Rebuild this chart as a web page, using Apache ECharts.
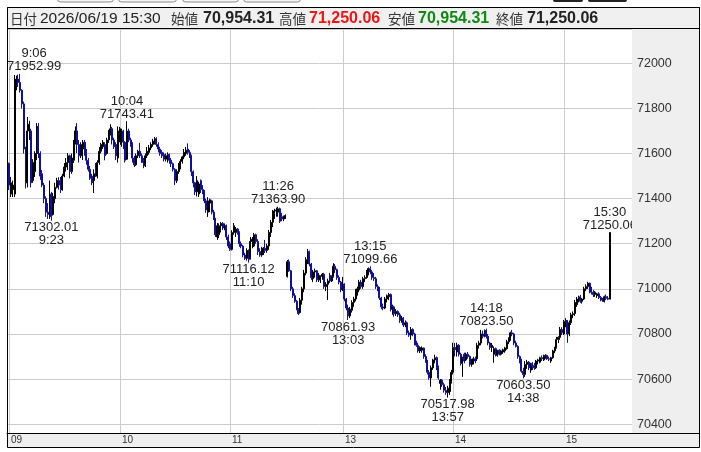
<!DOCTYPE html>
<html><head><meta charset="utf-8">
<script src="https://cdn.jsdelivr.net/npm/echarts@6/dist/echarts.min.js"></script>
<style>html,body{margin:0;padding:0;background:#fff}#c{width:701px;height:452px}</style>
</head><body><div id="c"></div><script>
// 1-minute candles [open, high, low, close]
// morning session 9:00 - 11:30
const morning = [
[71556,71560,71438,71460],[71420,71496,71407,71470],[71440,71480,71407,71460],[71420,71948,71407,71910],[71900,71945,71880,71930],[71930,71950,71895,71915],[71915,71952.99,71870,71880],[71880,71885,71800,71820],[71820,71830,71600,71620],[71620,71630,71445,71470],
[71470,71762,71450,71700],[71700,71745,71660,71730],[71700,71710,71450,71470],[71480,71575,71470,71560],[71520,71610,71496,71600],[71600,71735,71571,71720],[71720,71735,71580,71600],[71600,71610,71483,71500],[71510,71527,71451,71460],[71460,71470,71380,71400],
[71400,71410,71319,71340],[71340,71380,71310,71330],[71330,71480,71310,71420],[71420,71430,71302.01,71320],[71330,71425,71325,71410],[71400,71470,71380,71450],[71450,71492,71445,71480],[71480,71495,71440,71460],[71470,71496,71425,71440],[71440,71510,71435,71500],
[71500,71558,71495,71540],[71540,71580,71520,71560],[71560,71602,71527,71590],[71590,71595,71490,71520],[71520,71600,71510,71580],[71570,71660,71558,71650],[71650,71720,71640,71700],[71700,71735,71602,71640],[71640,71660,71560,71590],[71590,71650,71580,71640],
[71620,71660,71571,71650],[71650,71660,71590,71600],[71610,71620,71550,71570],[71570,71580,71520,71530],[71530,71545,71483,71490],[71500,71510,71460,71470],[71480,71530,71425,71510],[71520,71558,71496,71500],[71500,71570,71490,71560],[71560,71629,71550,71610],
[71610,71647,71600,71640],[71630,71660,71620,71650],[71640,71650,71570,71590],[71600,71670,71595,71660],[71660,71705,71647,71700],[71690,71730,71680,71710],[71710,71718,71640,71660],[71660,71670,71620,71630],[71640,71650,71571,71590],[71580,71720,71560,71700],
[71690,71718,71650,71710],[71640,71710,71630,71700],[71700,71705,71620,71650],[71650,71655,71560,71570],[71575,71743.41,71571,71700],[71700,71710,71650,71660],[71660,71670,71630,71640],[71640,71650,71560,71580],[71580,71590,71540,71550],[71550,71600,71545,71590],
[71590,71616,71580,71610],[71610,71647,71580,71590],[71590,71600,71558,71560],[71570,71580,71535,71545],[71550,71600,71540,71590],[71590,71629,71580,71610],[71605,71638,71595,71625],[71625,71650,71615,71640],[71640,71665,71630,71655],[71650,71673,71640,71665],
[71665,71672,71630,71640],[71640,71650,71605,71620],[71620,71630,71590,71600],[71605,71615,71580,71590],[71595,71605,71565,71575],[71575,71600,71565,71590],[71585,71605,71560,71595],[71595,71600,71555,71570],[71570,71580,71540,71555],[71555,71560,71520,71530],
[71530,71535,71460,71480],[71480,71530,71469,71520],[71520,71558,71510,71545],[71545,71575,71530,71565],[71565,71590,71555,71585],[71585,71620,71575,71605],[71600,71629,71590,71615],[71620,71645,71595,71605],[71605,71615,71580,71590],[71590,71595,71500,71520],
[71520,71525,71450,71470],[71470,71475,71416,71430],[71430,71500,71410,71480],[71420,71475,71407,71465],[71480,71485,71425,71440],[71440,71460,71420,71430],[71430,71438,71380,71390],[71390,71400,71337,71350],[71340,71407,71319,71390],[71380,71400,71340,71395],
[71390,71395,71330,71340],[71340,71350,71305,71310],[71310,71315,71230,71240],[71230,71292,71217,71280],[71240,71290,71225,71280],[71280,71296,71250,71290],[71290,71296,71261,71270],[71270,71290,71260,71280],[71280,71285,71217,71230],[71230,71240,71180,71190],
[71200,71210,71168,71175],[71175,71260,71170,71250],[71250,71292,71240,71280],[71250,71274,71230,71265],[71265,71270,71240,71250],[71250,71255,71186,71200],[71200,71210,71180,71190],[71190,71195,71140,71150],[71150,71160,71128,71135],[71135,71180,71125,71170],
[71170,71175,71116.12,71130],[71140,71230,71130,71210],[71210,71230,71180,71220],[71190,71248,71186,71240],[71240,71245,71200,71210],[71210,71220,71150,71165],[71165,71180,71142,71150],[71150,71186,71142,71175],[71160,71185,71150,71180],[71180,71217,71159,71170],
[71170,71200,71160,71190],[71190,71261,71173,71250],[71250,71305,71230,71295],[71295,71350,71274,71335],[71335,71355,71310,71345],[71345,71360,71320,71350],[71340,71363.90,71320,71355],[71355,71360,71292,71300],[71320,71337,71300,71310],[71310,71325,71300,71320],[71315,71330,71310,71325]
];
// afternoon session 12:30 - 15:24
const afternoon = [
[71055,71128,71050,71120],[71120,71130,71075,71080],[71080,71084,70990,71000],[71000,71009,70960,70970],[70970,70980,70938,70945],[70945,70951,70905,70910],[70910,70915,70884,70890],[70895,70960,70890,70950],[70950,71009,70930,71000],[71000,71084,70985,71070],
[71070,71140,71060,71130],[71130,71177,71110,71165],[71165,71170,71100,71110],[71110,71115,71040,71050],[71045,71084,71030,71075],[71075,71090,71050,71080],[71080,71084,71030,71040],[71040,71070,71030,71060],[71040,71060,71026,71055],[71055,71070,71040,71065],
[71065,71071,71000,71010],[71010,71030,70990,71020],[71020,71045,70951,71035],[71060,71071,71026,71035],[71035,71060,71030,71055],[71055,71114,71050,71100],[71100,71110,71070,71085],[71085,71090,71040,71050],[71050,71060,71020,71030],[71030,71035,70985,70995],
[70995,71053,70990,71020],[71020,71025,70945,70955],[70955,70960,70905,70915],[70915,70930,70861.93,70880],[70880,70920,70870,70910],[70905,70950,70895,70940],[70940,70965,70920,70955],[70955,71000,70945,70990],[70990,71010,70970,71000],[70995,71040,70985,71030],
[71030,71040,71000,71010],[71010,71053,71000,71045],[71045,71060,71030,71050],[71050,71084,71045,71075],[71075,71095,71060,71090],[71090,71099.66,71065,71075],[71075,71084,71040,71050],[71050,71070,71035,71045],[71045,71053,71000,71010],[71010,71020,70990,70995],
[70995,71009,70951,70960],[70960,70965,70910,70920],[70920,70935,70905,70915],[70915,70964,70910,70955],[70955,70975,70940,70970],[70965,70982,70950,70975],[70975,70980,70900,70910],[70910,70930,70885,70920],[70920,70925,70876,70890],[70890,70910,70880,70900],
[70900,70905,70876,70885],[70885,70894,70849,70860],[70860,70880,70850,70870],[70870,70875,70831,70840],[70840,70860,70830,70850],[70850,70855,70795,70805],[70805,70815,70787,70795],[70795,70831,70774,70820],[70820,70825,70790,70800],[70800,70805,70750,70760],
[70760,70770,70743,70750],[70750,70761,70717,70725],[70725,70745,70715,70740],[70728,70745,70717,70738],[70738,70740,70690,70700],[70700,70710,70672,70680],[70680,70685,70620,70630],[70630,70640,70597,70605],[70605,70660,70566,70650],[70650,70690,70641,70685],
[70685,70708,70670,70695],[70695,70700,70640,70650],[70650,70660,70597,70605],[70580,70600,70553,70595],[70595,70600,70565,70575],[70575,70584,70540,70550],[70550,70565,70530,70540],[70540,70570,70517.98,70560],[70545,70600,70530,70590],[70590,70641,70580,70630],
[70630,70761,70620,70740],[70740,70760,70700,70730],[70720,70761,70700,70750],[70750,70755,70700,70710],[70710,70717,70660,70670],[70670,70699,70610,70690],[70710,70717,70670,70680],[70685,70717,70680,70710],[70710,70720,70690,70700],[70700,70705,70655,70665],
[70665,70690,70655,70685],[70680,70699,70665,70690],[70690,70700,70670,70680],[70690,70761,70680,70750],[70750,70770,70735,70760],[70760,70818,70750,70800],[70800,70815,70780,70790],[70790,70820,70785,70815],[70815,70823.50,70780,70790],[70790,70800,70750,70760],
[70760,70765,70730,70740],[70740,70760,70720,70750],[70710,70745,70672,70735],[70735,70740,70700,70715],[70705,70730,70699,70725],[70728,70732,70705,70710],[70710,70730,70705,70725],[70720,70735,70712,70730],[70725,70743,70717,70738],[70735,70774,70730,70765],
[70765,70785,70755,70778],[70778,70810,70770,70805],[70805,70818,70790,70800],[70800,70805,70750,70760],[70760,70770,70740,70745],[70745,70750,70690,70700],[70700,70705,70670,70680],[70680,70690,70628,70635],[70635,70650,70603.50,70620],[70620,70680,70610,70665],
[70665,70685,70645,70675],[70675,70680,70640,70650],[70640,70672,70628,70665],[70670,70675,70640,70655],[70660,70672,70641,70650],[70650,70685,70645,70680],[70680,70690,70665,70685],[70675,70699,70670,70695],[70695,70705,70680,70690],[70685,70708,70680,70700],
[70700,70710,70690,70705],[70705,70708,70685,70690],[70690,70700,70680,70688],[70680,70699,70672,70695],[70695,70730,70690,70725],[70725,70743,70715,70740],[70740,70787,70735,70775],[70775,70790,70760,70785],[70785,70831,70774,70820],[70820,70830,70795,70805],
[70800,70862,70795,70855],[70855,70870,70830,70860],[70860,70862,70761,70800],[70800,70860,70790,70850],[70850,70894,70840,70885],[70885,70900,70870,70890],[70890,70951,70880,70940],[70930,70964,70920,70955],[70955,70970,70940,70960],[70965,70973,70938,70945],
[70945,70960,70935,70955],[70955,71009,70950,71000],[71000,71020,70990,71010],[71010,71031,71000,71025],[71025,71028,70980,70990],[71000,71009,70975,70985],[70985,70995,70964,70975],[70975,70990,70965,70985],[70970,70982,70960,70978],[70978,70985,70955,70962],
[70962,70968,70945,70950],[70950,70960,70942,70945],[70945,70970,70940,70965],[70965,70975,70950,70958],[70958,70968,70950,70954.31]
];
// closing auction 15:30
const closing = [[70954.31, 71250.06, 70954.31, 71250.06]];

const headerDate = '2026/06/19 15:30';
const hourTicks = ['9:00', '10:00', '11:00', '13:00', '14:00', '15:00'];
const hourLabels = ['09', '10', '11', '13', '14', '15'];
// [time, price, side]
const annotations = [
  ['9:06', 71952.99, 'high'], ['9:23', 71302.01, 'low'], ['10:04', 71743.41, 'high'],
  ['11:10', 71116.12, 'low'], ['11:26', 71363.90, 'high'], ['13:03', 70861.93, 'low'],
  ['13:15', 71099.66, 'high'], ['13:57', 70517.98, 'low'], ['14:18', 70823.50, 'high'],
  ['14:38', 70603.50, 'low'], ['15:30', 71250.06, 'high']
];

// ---- build
function tm(h, m) { h += Math.floor(m / 60); m = m % 60; return h + ':' + String(m).padStart(2, '0'); }
const times = [];
morning.forEach((r, i) => times.push(tm(9, i)));
afternoon.forEach((r, i) => times.push(tm(12, 30 + i)));
times.push('15:30');
const rows = morning.concat(afternoon, closing);
const candleData = rows.map((r, i) => [i, r[0], r[3], r[2], r[1]]);

const mctx = document.createElement('canvas').getContext('2d');
function measure(t, f) { mctx.font = f; return mctx.measureText(t).width; }
const annFont = '13px "Liberation Sans", Arial, sans-serif';
const fmt = v => v.toLocaleString('en-US', { minimumFractionDigits: 2, maximumFractionDigits: 2 });

const last = closing[0];
const jp = '13.5px "Noto Sans CJK JP", sans-serif';
const num = 'bold 16px "Liberation Sans", Arial, sans-serif';
const header = [
  ['日付', 10, jp, '#333'], [headerDate, 40, '15.5px "Liberation Sans", Arial, sans-serif', '#222'],
  ['始値', 171, jp, '#333'], [fmt(last[0]), 203, num, '#222'],
  ['高値', 279, jp, '#333'], [fmt(last[1]), 309, num, '#f01414'],
  ['安値', 388, jp, '#333'], [fmt(last[2]), 418, num, '#118811'],
  ['終値', 496, jp, '#333'], [fmt(last[3]), 527, num, '#222']
];

const chart = echarts.init(document.getElementById('c'), null, { renderer: 'canvas' });
const gfx = [];
[[57, 56], [118, 58], [182, 56], [243, 57]].forEach(b => gfx.push({ type: 'rect', z: -10, shape: { x: b[0] + 0.5, y: -10, width: b[1], height: 12, r: 3 }, style: { fill: '#f6f6f6', stroke: '#8a8a8a', lineWidth: 1 } }));
[[553, 30], [588, 39]].forEach(b => gfx.push({ type: 'rect', z: -10, shape: { x: b[0], y: -10, width: b[1], height: 12, r: 2 }, style: { fill: '#222' } }));
gfx.push({ type: 'rect', z: -10, shape: { x: 632, y: 29, width: 67, height: 404 }, style: { fill: '#efefef' } });
gfx.push({ type: 'rect', z: -10, shape: { x: 7, y: 433, width: 692, height: 14 }, style: { fill: '#efefef' } });
gfx.push({ type: 'rect', z: 40, shape: { x: 7.5, y: 7.5, width: 692, height: 21 }, style: { fill: '#f0f0f0', stroke: '#000', lineWidth: 1 } });
gfx.push({ type: 'rect', z: 41, shape: { x: 7.5, y: 7.5, width: 692, height: 440 }, style: { fill: 'none', stroke: '#000', lineWidth: 1 } });
gfx.push({ type: 'line', z: 41, shape: { x1: 7, y1: 433.5, x2: 700, y2: 433.5 }, style: { stroke: '#000', lineWidth: 1 } });
header.forEach(h => gfx.push({ type: 'text', z: 42, x: h[1], y: 18.5, style: { text: h[0], font: h[2], fill: h[3], align: 'left', verticalAlign: 'middle' } }));

chart.setOption({
  animation: false,
  grid: { left: 7, right: 69, top: 29, bottom: 19, show: false },
  xAxis: {
    type: 'value', min: -1.085, max: 338,
    axisLine: { show: true, onZero: false, lineStyle: { color: '#000', width: 1 } },
    axisTick: { show: false }, axisLabel: { show: false }, splitLine: { show: false }
  },
  yAxis: {
    type: 'value', position: 'right', min: 70361, max: 72152,
    minInterval: 200, maxInterval: 200, splitNumber: 9,
    axisLine: { show: true, lineStyle: { color: '#000', width: 1 } },
    axisTick: { show: false },
    axisLabel: { color: '#333', fontSize: 12.5, fontFamily: '"Liberation Sans", Arial, sans-serif', margin: 5, showMinLabel: false, showMaxLabel: false, formatter: v => String(Math.round(v)) },
    splitLine: { show: true, lineStyle: { color: '#cccccc', width: 1 } }
  },
  graphic: { elements: gfx },
  series: [
    {
      type: 'custom', z: 1, silent: true, clip: false,
      data: hourTicks.map((t, j) => [times.indexOf(t), 71000, j]),
      encode: { x: 0, y: 1 },
      renderItem: function (params, api) {
        const cs = params.coordSys;
        const x = Math.round(api.coord([api.value(0), api.value(1)])[0]) + 0.5;
        return {
          type: 'group', children: [
            { type: 'line', shape: { x1: x, y1: cs.y, x2: x, y2: cs.y + cs.height }, style: { stroke: '#cccccc', lineWidth: 1 } },
            { type: 'text', z2: 50, x: x + 1.5, y: cs.y + cs.height + 7.5, style: { text: hourLabels[api.value(2)], font: '10px "Liberation Sans", Arial, sans-serif', fill: '#333', align: 'left', verticalAlign: 'middle' } }
          ]
        };
      }
    },
    {
      type: 'candlestick', z: 3, silent: true,
      data: candleData,
      dimensions: ['idx', 'open', 'close', 'lowest', 'highest'],
      encode: { x: 0, y: [1, 2, 3, 4] },
      barWidth: 1.5,
      itemStyle: { color: '#000000', color0: '#10109a', borderColor: '#000000', borderColor0: '#10109a', borderWidth: 1 }
    },
    {
      type: 'custom', z: 5, silent: true, clip: true,
      data: annotations.map(a => [times.indexOf(a[0]), a[1]]),
      encode: { x: 0, y: 1 },
      renderItem: function (params, api) {
        const a = annotations[params.dataIndex];
        const cs = params.coordSys;
        const pt = api.coord([api.value(0), api.value(1)]);
        const vt = a[1].toFixed(2);
        const hi = a[2] === 'high';
        const w = Math.max(measure(vt, annFont), measure(a[0], annFont));
        const cx = Math.max(pt[0], cs.x + w / 2);
        const l1 = hi ? a[0] : vt, l2 = hi ? vt : a[0];
        const y1 = hi ? pt[1] - 20 : pt[1] + 7, y2 = hi ? pt[1] - 7 : pt[1] + 20;
        const st = t => ({ text: t, font: annFont, fill: '#222', align: 'center', verticalAlign: 'middle' });
        return { type: 'group', children: [
          { type: 'text', x: cx, y: y1, style: st(l1) },
          { type: 'text', x: cx, y: y2, style: st(l2) }
        ] };
      }
    }
  ]
});
</script></body></html>
